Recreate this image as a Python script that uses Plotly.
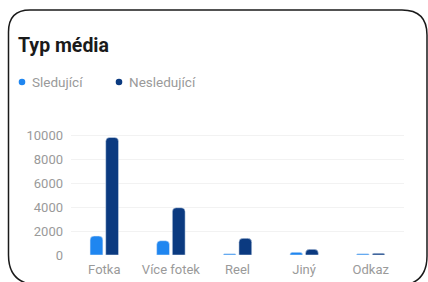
import plotly.graph_objects as go

categories = ["Fotka", "Více fotek", "Reel", "Jiný", "Odkaz"]
sledujici = [1580, 1190, 100, 220, 100]
nesledujici = [9800, 3940, 1390, 470, 140]
series_names = ["Sledující", "Nesledující"]
series_colors = ["#1f86f0", "#0b3a80"]
y_ticks = [0, 2000, 4000, 6000, 8000, 10000]
title_text = "Typ média"

W, H = 428, 282
ML, MR, MT, MB = 71, 24, 128, 27
PW, PH = W - ML - MR, H - MT - MB


def px(x):
    return (x - ML) / PW


def py(y):
    return (H - MB - y) / PH


fig = go.Figure()
for name, vals, col in zip(series_names, [sledujici, nesledujici], series_colors):
    fig.add_trace(go.Bar(x=categories, y=vals, name=name, marker=dict(color=col, cornerradius=4),
                         showlegend=False, hoverinfo="skip"))

# Card outline
pts = [
    ("M", 8.5, 32), ("Q", 8.5, 10, 30, 10), ("L", 402, 10), ("Q", 427, 10, 427, 35),
    ("L", 427, 256), ("Q", 427, 286, 395, 286), ("L", 40, 285), ("Q", 8.5, 285, 8.5, 255), ("Z",)
]
path = ""
for p in pts:
    if p[0] == "Z":
        path += " Z"
    else:
        coords = p[1:]
        s = []
        for i in range(0, len(coords), 2):
            s.append(f"{px(coords[i]):.5f},{py(coords[i+1]):.5f}")
        path += f" {p[0]} " + " ".join(s)

fig.add_shape(type="path", path=path, xref="paper", yref="paper",
              line=dict(color="#1a1a1a", width=1.5), fillcolor="rgba(0,0,0,0)", layer="above")

fig.add_annotation(text=f"<b>{title_text}</b>", x=px(16), y=py(45), xref="paper", yref="paper",
                   xanchor="left", yanchor="middle", showarrow=False,
                   font=dict(family="Roboto", size=19.5, color="#1a1a1a"))

legend_dot_x = [22, 119]
for name, col, lx in zip(series_names, series_colors, legend_dot_x):
    r = 3.3
    fig.add_shape(type="circle", xref="paper", yref="paper",
                  x0=px(lx - r), x1=px(lx + r), y0=py(82 + r), y1=py(82 - r),
                  fillcolor=col, line=dict(width=0))
    fig.add_annotation(text=name, x=px(lx + 7.5), y=py(82),
                       xref="paper", yref="paper", xanchor="left", yanchor="middle", showarrow=False,
                       font=dict(family="Roboto", size=13.5, color="#9a9a9a"))

fig.update_layout(
    width=W, height=H,
    margin=dict(l=ML, r=MR, t=MT, b=MB),
    paper_bgcolor="white", plot_bgcolor="white",
    barmode="group", bargap=0.53, bargroupgap=0.18,
    font=dict(family="Roboto", color="#9a9a9a", size=13),
    showlegend=False,
)
fig.update_yaxes(range=[0, 10583], tickvals=y_ticks, ticktext=[str(t) for t in y_ticks],
                 showgrid=True, gridcolor="#f2f2f2", gridwidth=1, zeroline=False,
                 showline=False, ticks="", ticklabelstandoff=7, automargin=False,
                 tickfont=dict(size=13, color="#9a9a9a"))
fig.update_xaxes(showgrid=False, showline=False, ticks="", ticklabelstandoff=5, automargin=False,
                 tickfont=dict(size=13, color="#9a9a9a"))

fig.write_html("out.html", config={"displayModeBar": False},
               post_script="document.body.style.margin='0';document.body.style.padding='0';")
